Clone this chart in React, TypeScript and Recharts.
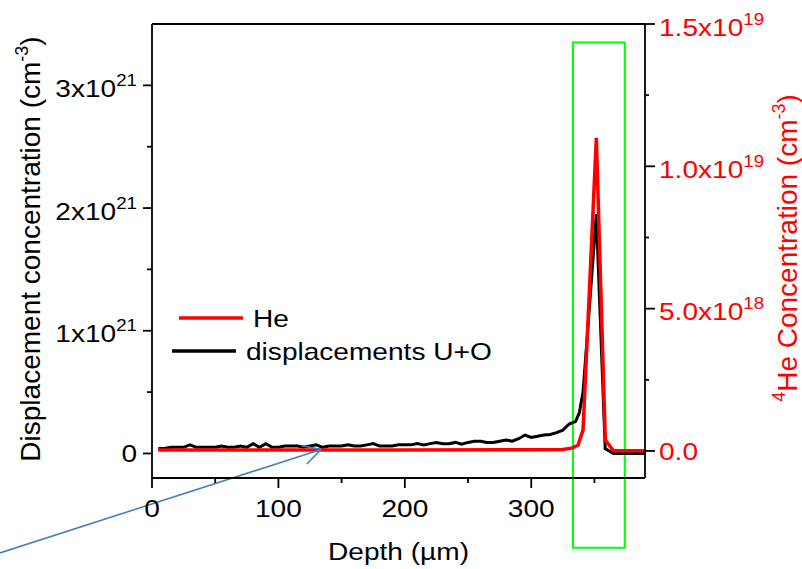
import React from 'react';
import { LineChart, Line, XAxis, YAxis, Legend, ReferenceArea, ReferenceLine } from 'recharts';

// ---- data (depth in µm) ----
const dispDepth = [
  5, 10, 15, 20, 25, 30, 35, 40, 45, 50, 55, 60, 65, 70, 75, 80, 85, 90, 95, 100,
  105, 110, 115, 120, 125, 130, 135, 140, 145, 150, 155, 160, 165, 170, 175, 180, 185, 190, 195, 200,
  205, 210, 215, 220, 225, 230, 235, 240, 245, 250, 255, 260, 265, 270, 275, 280, 285, 290, 295, 300,
  305, 310, 315, 320, 325, 330, 335, 338, 341, 345, 351.5, 358.5, 365, 375, 390,
];
// displacement concentration, units of 1e21 cm^-3
const dispValues = [
  0.04, 0.04, 0.05, 0.05, 0.05, 0.07, 0.05, 0.05, 0.05, 0.05, 0.06, 0.05, 0.05, 0.06, 0.05, 0.08, 0.05, 0.08, 0.05, 0.05,
  0.06, 0.06, 0.06, 0.05, 0.06, 0.07, 0.05, 0.06, 0.06, 0.06, 0.07, 0.06, 0.06, 0.07, 0.08, 0.06, 0.06, 0.06, 0.07, 0.07,
  0.07, 0.08, 0.07, 0.08, 0.09, 0.08, 0.08, 0.09, 0.075, 0.09, 0.1, 0.1, 0.09, 0.09, 0.1, 0.11, 0.1, 0.12, 0.15, 0.13,
  0.14, 0.15, 0.155, 0.17, 0.19, 0.24, 0.26, 0.33, 0.5, 1.05, 1.95, 0.04, 0.0, 0.0, 0.0,
];
const heDepth = [5, 100, 200, 300, 325, 332, 337, 341, 351.5, 358.6, 365, 375, 390];
// 4He concentration, units of 1e18 cm^-3
const heValues = [0.035, 0.035, 0.035, 0.04, 0.05, 0.1, 0.2, 0.74, 11.0, 0.39, 0.01, 0.01, 0.01];

const dispData = dispDepth.map((d, i) => ({ depth: d, disp: dispValues[i] }));
const heData = heDepth.map((d, i) => ({ depth: d, he: heValues[i] }));

// ---- ticks / labels ----
const xTicks = [0, 50, 100, 150, 200, 250, 300, 350];
const xMajor = [0, 100, 200, 300];
const xMajorText = ['0', '100', '200', '300'];
const leftTicks = [0, 0.5, 1, 1.5, 2, 2.5, 3];
const leftMajor = [0, 1, 2, 3];
const leftMajorText = ['0', '1x10', '2x10', '3x10'];
const leftMajorSup = ['', '21', '21', '21'];
const rightTicks = [0, 2.5, 5, 7.5, 10, 12.5, 15];
const rightMajor = [0, 5, 10, 15];
const rightMajorText = ['0.0', '5.0x10', '1.0x10', '1.5x10'];
const rightMajorSup = ['', '18', '19', '19'];
const legendOrder = ['He', 'displacements U+O'];

// ---- annotations (data coordinates) ----
const boxX = [333, 374];
const boxY = [-0.768, 3.35];
const arrowShaft = [{ x: -120.3, y: -0.811 }, { x: 133.8, y: 0.033 }];
const arrowBarbA = [{ x: 122.5, y: -0.086 }, { x: 133.8, y: 0.033 }];
const arrowBarbB = [{ x: 118.5, y: 0.064 }, { x: 133.8, y: 0.033 }];

const FONT = '"Liberation Sans", Arial, Helvetica, sans-serif';
const SX = 1.17;
const AX = 1.8;

function SupText(props: any) {
  const { x, y, anchor, main, sup, fill = '#000' } = props;
  return (
    <g transform={`translate(${x},${y}) scale(${SX},1)`}>
      <text x={0} y={0} textAnchor={anchor} fontFamily={FONT} fontSize={24} fill={fill}>
        <tspan>{main}</tspan>
        {sup ? (
          <tspan fontSize={16} dy={-11}>
            {sup}
          </tspan>
        ) : null}
      </text>
    </g>
  );
}

const BottomTick = (props: any) => {
  const { x, y, payload } = props;
  const i = xMajor.indexOf(payload.value);
  const major = i >= 0;
  return (
    <g>
      <line x1={x} x2={x} y1={y} y2={y + (major ? 10 : 5)} stroke="#000" strokeWidth={AX} />
      {major ? <SupText x={x} y={y + 39} anchor="middle" main={xMajorText[i]} sup="" /> : null}
    </g>
  );
};

const TopTick = (props: any) => {
  const { x, y, payload } = props;
  const major = xMajor.indexOf(payload.value) >= 0;
  return <line x1={x} x2={x} y1={y} y2={y + (major ? 8 : 4)} stroke="#000" strokeWidth={AX} />;
};

const LeftTick = (props: any) => {
  const { x, y, payload } = props;
  const i = leftMajor.indexOf(payload.value);
  const major = i >= 0;
  return (
    <g>
      <line x1={x} x2={x - (major ? 9 : 5)} y1={y} y2={y} stroke="#000" strokeWidth={AX} />
      {major ? (
        <SupText
          x={x - 15}
          y={y + (leftMajorSup[i] ? 11.5 : 9)}
          anchor="end"
          main={leftMajorText[i]}
          sup={leftMajorSup[i]}
        />
      ) : null}
    </g>
  );
};

const RightTick = (props: any) => {
  const { x, y, payload } = props;
  const i = rightMajor.indexOf(payload.value);
  const major = i >= 0;
  return (
    <g>
      <line x1={x} x2={x + (major ? 10 : 4)} y1={y} y2={y} stroke="#000" strokeWidth={AX} />
      {major ? (
        <SupText
          x={x + 14}
          y={y + (rightMajorSup[i] ? 11.5 : 9)}
          anchor="start"
          main={rightMajorText[i]}
          sup={rightMajorSup[i]}
          fill="#ff0000"
        />
      ) : null}
    </g>
  );
};

const XTitle = (props: any) => {
  const vb = props.viewBox || { x: 152, y: 478, width: 493, height: 91 };
  const cx = vb.x + vb.width / 2;
  return (
    <g transform={`translate(${cx},${vb.y + 82}) scale(${SX},1)`}>
      <text x={0} y={0} textAnchor="middle" fontFamily={FONT} fontSize={24} fill="#000">
        Depth (µm)
      </text>
    </g>
  );
};

const LeftTitle = (props: any) => {
  const vb = props.viewBox || { x: 0, y: 24, width: 152, height: 454 };
  const cy = vb.y + vb.height / 2 - 2;
  return (
    <text
      transform={`translate(40,${cy}) rotate(-90)`}
      x={0}
      y={0}
      textAnchor="middle"
      fontFamily={FONT}
      fontSize={28}
      fill="#000"
    >
      <tspan>Displacement concentration (cm</tspan>
      <tspan fontSize={18} dy={-12}>-3</tspan>
      <tspan dy={12}>)</tspan>
    </text>
  );
};

const RightTitle = (props: any) => {
  const vb = props.viewBox || { x: 645, y: 24, width: 157, height: 454 };
  const cy = vb.y + vb.height / 2 - 3;
  return (
    <text
      transform={`translate(797,${cy}) rotate(-90)`}
      x={0}
      y={0}
      textAnchor="middle"
      fontFamily={FONT}
      fontSize={28}
      fill="#ff0000"
    >
      <tspan fontSize={18} dy={-12}>4</tspan>
      <tspan dy={12}>He Concentration (cm</tspan>
      <tspan fontSize={18} dy={-12}>-3</tspan>
      <tspan dy={12}>)</tspan>
    </text>
  );
};

const legendRowY = [18, 51];
const legendRowX = [9, 2];

const renderLegend = (props: any) => {
  const payload = (props.payload || [])
    .slice()
    .sort((a: any, b: any) => legendOrder.indexOf(a.value) - legendOrder.indexOf(b.value));
  return (
    <svg width={360} height={70} style={{ display: 'block', overflow: 'visible' }}>
      {payload.map((p: any, i: number) => (
        <g key={p.value}>
          <line
            x1={legendRowX[i]}
            x2={legendRowX[i] + 64}
            y1={legendRowY[i]}
            y2={legendRowY[i]}
            stroke={p.color}
            strokeWidth={3.5}
          />
          <SupText x={legendRowX[i] + 74} y={legendRowY[i] + 9} anchor="start" main={p.value} sup="" />
        </g>
      ))}
    </svg>
  );
};

export default function App() {
  return (
    <div style={{ position: 'absolute', left: 0, top: 0, width: 802, height: 569, background: '#fff' }}>
      <LineChart width={802} height={569} margin={{ top: 0, right: 0, bottom: 0, left: 0 }}>
        <XAxis
          xAxisId="b"
          dataKey="depth"
          type="number"
          domain={[0, 390]}
          ticks={xTicks}
          interval={0}
          height={91}
          tickSize={0}
          tickMargin={0}
          tickLine={false}
          axisLine={{ stroke: '#000', strokeWidth: AX }}
          tick={<BottomTick />}
          label={XTitle}
        />
        <XAxis
          xAxisId="t"
          orientation="top"
          dataKey="depth"
          type="number"
          domain={[0, 390]}
          ticks={xTicks}
          interval={0}
          height={24}
          tickSize={0}
          tickMargin={0}
          tickLine={false}
          axisLine={{ stroke: '#000', strokeWidth: AX }}
          tick={<TopTick />}
        />
        <YAxis
          yAxisId="L"
          type="number"
          domain={[-0.2, 3.5]}
          ticks={leftTicks}
          interval={0}
          width={152}
          tickSize={0}
          tickMargin={0}
          tickLine={false}
          axisLine={{ stroke: '#000', strokeWidth: AX }}
          tick={<LeftTick />}
          label={LeftTitle}
        />
        <YAxis
          yAxisId="R"
          orientation="right"
          type="number"
          domain={[-0.95, 15]}
          ticks={rightTicks}
          interval={0}
          width={157}
          tickSize={0}
          tickMargin={0}
          tickLine={false}
          axisLine={{ stroke: '#000', strokeWidth: AX }}
          tick={<RightTick />}
          label={RightTitle}
        />
        <Line
          xAxisId="b"
          yAxisId="L"
          data={dispData}
          dataKey="disp"
          name="displacements U+O"
          type="linear"
          stroke="#000000"
          strokeWidth={3}
          dot={false}
          activeDot={false}
          isAnimationActive={false}
        />
        <Line
          xAxisId="b"
          yAxisId="R"
          data={heData}
          dataKey="he"
          name="He"
          type="linear"
          stroke="#ff0000"
          strokeWidth={3.5}
          dot={false}
          activeDot={false}
          isAnimationActive={false}
        />
        <ReferenceArea
          xAxisId="b"
          yAxisId="L"
          x1={boxX[0]}
          x2={boxX[1]}
          y1={boxY[0]}
          y2={boxY[1]}
          fill="none"
          fillOpacity={0}
          stroke="#00ff00"
          strokeWidth={2}
          ifOverflow="visible"
        />
        <ReferenceLine xAxisId="b" yAxisId="L" segment={arrowShaft} stroke="#4a7ebb" strokeWidth={1.6} ifOverflow="visible" />
        <ReferenceLine xAxisId="b" yAxisId="L" segment={arrowBarbA} stroke="#4a7ebb" strokeWidth={1.6} ifOverflow="visible" />
        <ReferenceLine xAxisId="b" yAxisId="L" segment={arrowBarbB} stroke="#4a7ebb" strokeWidth={1.6} ifOverflow="visible" />
        <Legend
          layout="vertical"
          align="center"
          verticalAlign="middle"
          content={renderLegend}
          wrapperStyle={{ left: 170, top: 300, width: 360, height: 70 }}
        />
      </LineChart>
    </div>
  );
}
